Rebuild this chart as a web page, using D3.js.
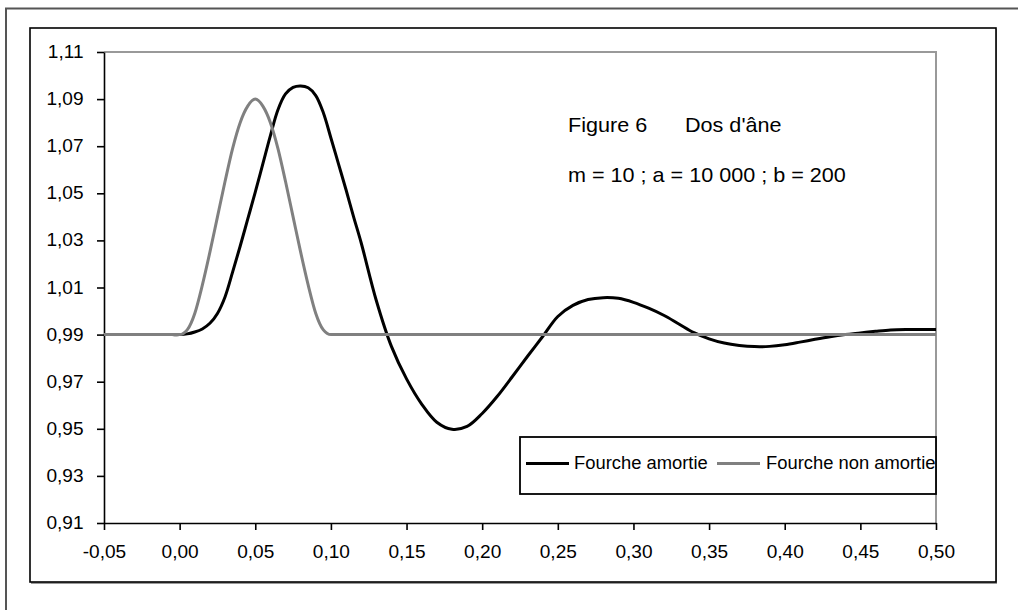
<!DOCTYPE html>
<html>
<head>
<meta charset="utf-8">
<script src="https://cdn.jsdelivr.net/npm/d3@7/dist/d3.min.js"></script>
<style>
  html, body { margin: 0; padding: 0; background: #fff; }
  svg { display: block; font-family: "Liberation Sans", Arial, sans-serif; }
</style>
</head>
<body>
<svg id="chart" width="1018" height="610"></svg>
<script>
// ---- data ----
const xTickValues = [-0.05, 0.00, 0.05, 0.10, 0.15, 0.20, 0.25, 0.30, 0.35, 0.40, 0.45, 0.50];
const yTickValues = [0.91, 0.93, 0.95, 0.97, 0.99, 1.01, 1.03, 1.05, 1.07, 1.09, 1.11];

const seriesNames = ["Fourche amortie", "Fourche non amortie"];
const seriesColors = ["#000000", "#808080"];

// Fourche amortie (damped fork)
const tAmortie = [-0.05, -0.010, -0.005, 0.000, 0.005, 0.010, 0.015, 0.020, 0.025, 0.030, 0.035, 0.040, 0.045,
  0.050, 0.055, 0.060, 0.065, 0.070, 0.075, 0.080, 0.085, 0.090, 0.095, 0.100,
  0.105, 0.110, 0.115, 0.120, 0.130, 0.140, 0.150, 0.160, 0.170, 0.180, 0.190, 0.200,
  0.210, 0.220, 0.230, 0.240, 0.250, 0.260, 0.270, 0.280, 0.290, 0.300,
  0.310, 0.320, 0.330, 0.340, 0.350, 0.360, 0.370, 0.380, 0.390, 0.400,
  0.410, 0.420, 0.430, 0.440, 0.450, 0.460, 0.470, 0.480, 0.490, 0.500];
const vAmortie = [0.9900, 0.9900, 0.9900, 0.9900, 0.9903, 0.9911, 0.9924, 0.9948, 0.9990, 1.0060, 1.0165, 1.0275, 1.0390,
  1.0505, 1.0625, 1.0745, 1.0855, 1.0922, 1.0950, 1.0956, 1.0948, 1.0915, 1.0842, 1.0735,
  1.0625, 1.0515, 1.0400, 1.0290, 1.0045, 0.9850, 0.9712, 0.9605, 0.9528, 0.9498, 0.9510, 0.9565,
  0.9638, 0.9722, 0.9808, 0.9892, 0.9977, 1.0024, 1.0049, 1.0057, 1.0054, 1.0037,
  1.0012, 0.9982, 0.9945, 0.9908, 0.9882, 0.9864, 0.9854, 0.9849, 0.9850, 0.9857,
  0.9868, 0.9880, 0.9891, 0.9900, 0.9907, 0.9914, 0.9920, 0.9922, 0.9922, 0.9922];

// Fourche non amortie (undamped fork) – follows the bump
const tNonAmortie = [-0.05, 0.000, 0.005, 0.010, 0.015, 0.020, 0.025, 0.030, 0.035, 0.040, 0.045,
  0.050, 0.055, 0.060, 0.065, 0.070, 0.075, 0.080, 0.085, 0.090, 0.095, 0.100, 0.500];
const vNonAmortie = [0.990, 0.990, 0.992, 0.999, 1.011, 1.025, 1.040, 1.055, 1.069, 1.080, 1.087,
  1.090, 1.087, 1.080, 1.069, 1.055, 1.040, 1.025, 1.011, 0.999, 0.992, 0.990, 0.990];

const annotationLine1a = "Figure 6";
const annotationLine1b = "Dos d'âne";
const annotationLine2 = "m = 10 ; a = 10 000 ; b = 200";

// ---- drawing ----
const svg = d3.select("#chart");
const fmt = v => v.toFixed(2).replace(".", ",");

// outer frame (extends beyond the window on right/bottom)
svg.append("rect").attr("x", 6).attr("y", 8.5).attr("width", 1100).attr("height", 700)
  .attr("fill", "#fff").attr("stroke", "#555").attr("stroke-width", 2);

// chart area frame with shadow
svg.append("rect").attr("x", 31).attr("y", 29).attr("width", 966).attr("height", 555)
  .attr("fill", "#999");
svg.append("rect").attr("x", 30).attr("y", 28).attr("width", 966).attr("height", 554)
  .attr("fill", "#fff").attr("stroke", "#000").attr("stroke-width", 1.6);

const plot = { left: 104, top: 52, right: 936, bottom: 523 };

const x = d3.scaleLinear().domain([-0.05, 0.50]).range([plot.left, plot.right]);
const y = d3.scaleLinear().domain([0.91, 1.11]).range([plot.bottom, plot.top]);

// plot area border (gray top/right)
svg.append("path")
  .attr("d", `M${plot.left},${plot.top}H${plot.right}V${plot.bottom}`)
  .attr("fill", "none").attr("stroke", "#999").attr("stroke-width", 2);

// axes
const xAxis = d3.axisBottom(x).tickValues(xTickValues).tickFormat(fmt).tickSize(7).tickSizeOuter(0);
const yAxis = d3.axisLeft(y).tickValues(yTickValues).tickFormat(fmt).tickSize(7).tickSizeOuter(0);

const gx = svg.append("g").attr("transform", `translate(0,${plot.bottom})`).call(xAxis);
const gy = svg.append("g").attr("transform", `translate(${plot.left},0)`).call(yAxis);

[gx, gy].forEach(g => {
  g.attr("font-size", null).attr("font-family", null);
  g.select(".domain").attr("stroke", "#000").attr("stroke-width", 1.6);
  g.selectAll(".tick line").attr("stroke", "#000").attr("stroke-width", 1.6);
  g.selectAll(".tick text").attr("fill", "#000")
    .style("font-family", '"Liberation Sans", Arial, sans-serif')
    .style("font-size", "17.5px");
});
gx.selectAll(".tick text").attr("y", 0).attr("dy", 0)
  .attr("transform", "translate(0,35) scale(1.09,1)");
gy.selectAll(".tick text").attr("x", 0).attr("dy", 0)
  .attr("transform", "translate(-20.5,5.5) scale(1.09,1)");

// lines
const lineSmooth = d3.line().x(d => x(d[0])).y(d => y(d[1])).curve(d3.curveCatmullRom.alpha(0.5));
const lineMono = d3.line().x(d => x(d[0])).y(d => y(d[1])).curve(d3.curveMonotoneX);
const dataAmortie = tAmortie.map((t, i) => [t, vAmortie[i]]);
const dataNon = tNonAmortie.map((t, i) => [t, vNonAmortie[i]]);

svg.append("path").datum(dataAmortie).attr("d", lineSmooth)
  .attr("fill", "none").attr("stroke", seriesColors[0]).attr("stroke-width", 3)
  .attr("stroke-linejoin", "round");
svg.append("path").datum(dataNon).attr("d", lineMono)
  .attr("fill", "none").attr("stroke", seriesColors[1]).attr("stroke-width", 3)
  .attr("stroke-linejoin", "round");

// annotation
const ann = svg.append("g").style("font-size", "20px").attr("fill", "#000");
ann.append("text").attr("transform", "translate(568,132) scale(1.08,1)").text(annotationLine1a);
ann.append("text").attr("transform", "translate(685,132) scale(1.08,1)").text(annotationLine1b);
ann.append("text").attr("transform", "translate(568,182) scale(1.08,1)").text(annotationLine2);

// legend
const lg = { x: 520, y: 437, w: 416, h: 57 };
svg.append("clipPath").attr("id", "lgclip").append("rect")
  .attr("x", lg.x).attr("y", lg.y).attr("width", lg.w - 1).attr("height", lg.h);
svg.append("rect").attr("x", lg.x).attr("y", lg.y).attr("width", lg.w).attr("height", lg.h)
  .attr("fill", "#fff").attr("stroke", "#000").attr("stroke-width", 1.8);
const lgItems = svg.append("g").attr("clip-path", "url(#lgclip)");
const legendPos = [{ lx: 526, tx: 574 }, { lx: 717, tx: 766 }];
seriesNames.forEach((name, i) => {
  const p = legendPos[i];
  lgItems.append("line").attr("x1", p.lx).attr("x2", p.lx + 43).attr("y1", 463.5).attr("y2", 463.5)
    .attr("stroke", seriesColors[i]).attr("stroke-width", 3);
  lgItems.append("text").attr("transform", `translate(${p.tx},469) scale(1.05,1)`)
    .style("font-size", "17.5px").attr("fill", "#000").text(name);
});
</script>
</body>
</html>
